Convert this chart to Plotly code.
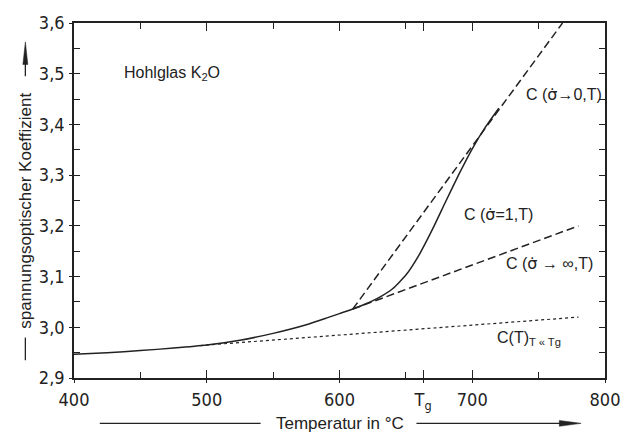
import plotly.graph_objects as go

# ---- data ----
T_solid = [400, 425, 450, 475, 500, 525, 550, 575, 590, 600, 610, 620, 630, 640,
           650, 660, 670, 680, 690, 700, 710, 720]
C_solid = [2.947, 2.950, 2.954, 2.959, 2.965, 2.9745, 2.988, 3.005, 3.018, 3.027, 3.036,
           3.0465, 3.059, 3.076, 3.103, 3.143, 3.193, 3.248, 3.302, 3.352, 3.395, 3.432]
T_up = [610, 768]          # C(sigma -> 0, T)
C_up = [3.036, 3.600]
T_low = [610, 780]         # C(sigma -> inf, T)
C_low = [3.036, 3.200]
T_dot = [495, 780]         # C(T), T << Tg
C_dot = [2.964, 3.020]

x_ticks = [400, 500, 600, 663, 700, 800]
x_ticktext = ["400", "500", "600", "T<sub>g</sub>", "700", "800"]
y_ticks = [2.9, 3.0, 3.1, 3.2, 3.3, 3.4, 3.5, 3.6]
y_ticktext = ["2,9", "3,0", "3,1", "3,2", "3,3", "3,4", "3,5", "3,6"]

INK = "#222222"
TICKFONT = dict(family="Liberation Sans Narrow, DejaVu Sans Condensed, sans-serif", size=18, color=INK)
TXTFONT = dict(family="Liberation Sans, Arial, sans-serif", size=16, color=INK)

SIG = "<span style='font-family:DejaVu Sans'>σ̇</span>"

fig = go.Figure()
fig.add_trace(go.Scatter(x=T_dot, y=C_dot, mode="lines",
                         line=dict(color=INK, width=1.2, dash="dot")))
fig.add_trace(go.Scatter(x=T_up, y=C_up, mode="lines",
                         line=dict(color=INK, width=1.5, dash="8px,4px")))
fig.add_trace(go.Scatter(x=T_low, y=C_low, mode="lines",
                         line=dict(color=INK, width=1.5, dash="8px,4px")))
fig.add_trace(go.Scatter(x=T_solid, y=C_solid, mode="lines", line_shape="spline",
                         line=dict(color=INK, width=1.5, smoothing=0.5)))
# invisible trace for the overlay tick axes
fig.add_trace(go.Scatter(x=[400], y=[2.9], xaxis="x2", yaxis="y2", mode="markers",
                         marker=dict(opacity=0), hoverinfo="skip"))

annots = [
    dict(x=436, y=3.50, text="Hohlglas K<sub>2</sub>O", xanchor="left"),
    dict(x=739, y=3.46, text="C (" + SIG + "→0,T)", xanchor="left"),
    dict(x=692, y=3.223, text="C (" + SIG + "=1,T)", xanchor="left"),
    dict(x=724, y=3.126, text="C (" + SIG + " → ∞,T)", xanchor="left"),
    dict(x=717, y=2.977, text="C(T)<sub>T « Tg</sub>", xanchor="left"),
]
for a in annots:
    fig.add_annotation(xref="x", yref="y", showarrow=False, font=TXTFONT,
                       yanchor="middle", **a)

TITLEFONT = dict(family="Liberation Sans, Arial, sans-serif", size=17, color=INK)
fig.add_annotation(xref="paper", yref="paper", x=0.501, y=-0.128, text="Temperatur in °C",
                   showarrow=False, font=TITLEFONT, xanchor="center", yanchor="middle")
fig.add_annotation(xref="paper", yref="paper", x=-0.0916, y=0.472,
                   text="spannungsoptischer Koeffizient", textangle=-90,
                   showarrow=False, font=TITLEFONT, xanchor="center", yanchor="middle")

L = dict(color=INK, width=1.3)
shapes = [
    # x title lines + arrow
    dict(type="line", xref="paper", yref="paper", x0=0.0486, x1=0.3514, y0=-0.1278, y1=-0.1278, line=L),
    dict(type="line", xref="paper", yref="paper", x0=0.6449, x1=0.92, y0=-0.1278, y1=-0.1278, line=L),
    dict(type="path", xref="paper", yref="paper",
         path="M 0.914,-0.1195 L 0.955,-0.1278 L 0.914,-0.1361 Z", fillcolor=INK, line=dict(color=INK, width=0.5)),
    # y title lines + arrow
    dict(type="line", xref="paper", yref="paper", x0=-0.0916, x1=-0.0916, y0=0.05, y1=0.1139, line=L),
    dict(type="line", xref="paper", yref="paper", x0=-0.0916, x1=-0.0916, y0=0.85, y1=0.89, line=L),
    dict(type="path", xref="paper", yref="paper",
         path="M -0.0963,0.883 L -0.0916,0.947 L -0.0869,0.883 Z", fillcolor=INK, line=dict(color=INK, width=0.5)),
]

fig.update_layout(
    width=632, height=438,
    margin=dict(l=74, r=23, t=18, b=60),
    paper_bgcolor="white", plot_bgcolor="white",
    showlegend=False,
    shapes=shapes,
    xaxis=dict(range=[400, 800], tickvals=x_ticks, ticktext=x_ticktext,
               ticks="inside", ticklen=8, tickwidth=1.2, tickcolor=INK,
               minor=dict(tickvals=[450, 550, 650, 750], ticks="inside", ticklen=6,
                          tickwidth=1.2, tickcolor=INK),
               showline=True, linewidth=1.6, linecolor=INK, mirror="ticks",
               showgrid=False, zeroline=False, tickfont=TICKFONT, ticklabelstandoff=5),
    yaxis=dict(range=[2.9, 3.6], tickvals=y_ticks, ticktext=y_ticktext,
               ticks="inside", ticklen=6, tickwidth=1.2, tickcolor=INK,
               minor=dict(dtick=0.05, ticks="inside", ticklen=6, tickwidth=1.2, tickcolor=INK),
               showline=True, linewidth=1.6, linecolor=INK, mirror="ticks",
               showgrid=False, zeroline=False, tickfont=TICKFONT, ticklabelstandoff=4),
    xaxis2=dict(range=[400, 800], overlaying="x", anchor="y", side="bottom",
                tickvals=x_ticks, ticks="outside", ticklen=4, tickwidth=1.2, tickcolor=INK,
                showticklabels=False, showgrid=False, zeroline=False, showline=False),
    yaxis2=dict(range=[2.9, 3.6], overlaying="y", anchor="x", side="left",
                tickvals=y_ticks, ticks="outside", ticklen=4, tickwidth=1.2, tickcolor=INK,
                showticklabels=False, showgrid=False, zeroline=False, showline=False),
)

fig.write_html("out.html")
